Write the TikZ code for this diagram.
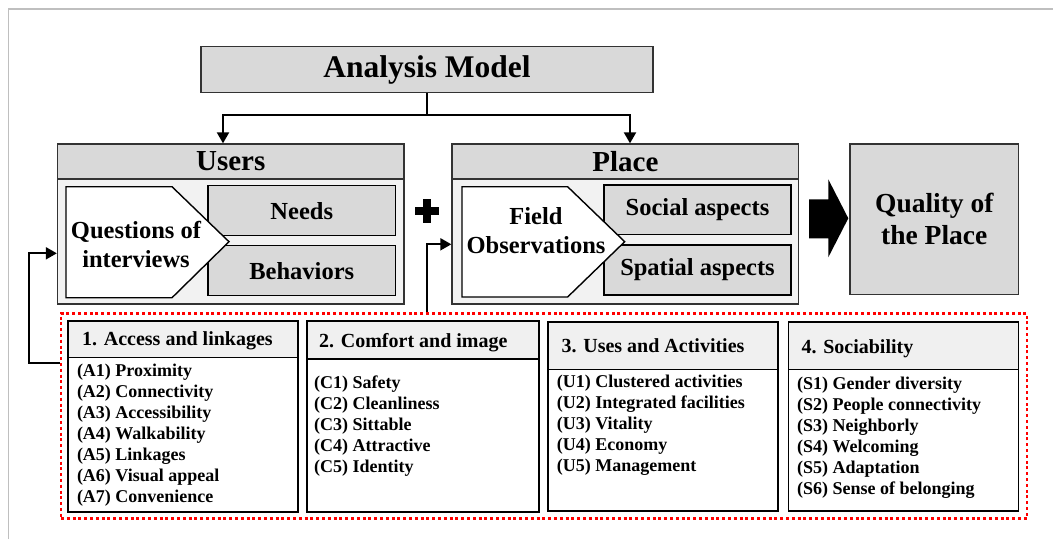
\documentclass[tikz,border=0pt]{standalone}
\usepackage{fontspec}
\setmainfont{Liberation Serif}
\usetikzlibrary{arrows.meta}

\begin{document}
\begin{tikzpicture}[x=1pt, y=-1pt,
	box/.style={draw=black!80, line width=1.3pt, inner sep=0pt},
	hdr/.style={box, fill=black!15},
	sub/.style={box, draw=black, fill=black!15},
	crit/.style={draw=black, line width=1.6pt, inner sep=0pt},
	conn/.style={line width=2pt, -{Triangle[length=11pt, width=12pt]}},
	bigtxt/.style={font=\bfseries\fontsize{29}{34}\selectfont},
	midtxt/.style={font=\bfseries\fontsize{24.5}{29}\selectfont, align=center},
	ttl/.style={font=\bfseries\fontsize{20}{23}\selectfont, anchor=base west, inner sep=0pt},
	itm/.style={font=\bfseries\fontsize{18}{21}\selectfont, anchor=base west, align=left, inner sep=0pt}]
	\useasboundingbox (0,0) rectangle (1053,539);
	% Frame
	\draw[black!25, line width=1.5pt] (8.3,539) -- (8.3,9) -- (1053,9);

	% Top box
	\node[hdr, font=\bfseries\fontsize{31.5}{36}\selectfont, minimum width=452pt, minimum height=46pt] (am) at (427,69.7) {Analysis Model};

	% Users
	\node[hdr, bigtxt, minimum width=346.5pt, minimum height=35pt] (users) at (230.75,161.5) {Users};
	\node[box, fill=black!5, minimum width=346.5pt, minimum height=125pt] (ubody) at (230.75,241.5) {};
	\node[sub, midtxt, minimum width=187.5pt, minimum height=50pt] (needs) at (301.75,210.7) {Needs};
	\node[sub, midtxt, minimum width=187.5pt, minimum height=50pt] (behav) at (301.75,270.7) {Behaviors};
	\filldraw[fill=white, draw=black, line width=1.4pt] (66,186.7) -- (172,186.7) -- (229,241.7) -- (172,297.7) -- (66,297.7) -- cycle;
	\node[midtxt, inner sep=0pt] (qi) at (136,244.5) {Questions of\\interviews};

	% Plus
	\fill (414.6,207) rectangle (438.6,215);
	\fill (422.6,199) rectangle (430.6,223);

	% Place
	\node[hdr, bigtxt, minimum width=346.7pt, minimum height=35pt] (place) at (625.35,161.5) {Place};
	\node[box, fill=black!5, minimum width=346.7pt, minimum height=125pt] (pbody) at (625.35,241.5) {};
	\node[sub, midtxt, minimum width=187pt, minimum height=49.3pt] (social) at (697.5,209.7) {Social aspects};
	\node[sub, midtxt, minimum width=187pt, minimum height=50pt] (spatial) at (697.5,270) {Spatial aspects};
	\filldraw[fill=white, draw=black, line width=1.4pt] (462,186.7) -- (567.6,186.7) -- (624.7,241.7) -- (567.6,297) -- (462,297) -- cycle;
	\node[midtxt, inner sep=0pt] (fo) at (536,230.5) {Field\\Observations};

	% Block arrow
	\fill (809,199.3) -- (828.3,199.3) -- (828.3,179.3) -- (848.3,218.3) -- (828.3,257.3) -- (828.3,238.3) -- (809,238.3) -- cycle;

	% Result
	\node[hdr, font=\bfseries\fontsize{27.5}{32}\selectfont, align=center, minimum width=168.6pt, minimum height=150.7pt] (quality) at (934.3,219.35) {Quality of\\the Place};

	% Split arrows
	\coordinate (split) at (am.south |- 0,115);
	\draw[line width=2pt] (am.south) -- (split);
	\draw[conn] (split) -| ([xshift=-7.75pt]users.north);
	\draw[conn] (split) -| ([xshift=4.65pt]place.north);

	% Criteria
	\node[draw=red, line width=2.8pt, dash pattern=on 3pt off 2.8pt, minimum width=966pt, minimum height=205pt, inner sep=0pt] (crit) at (544,415.8) {};

	%1
	\node[crit, fill=black!6, minimum width=230pt, minimum height=36.6pt] (hd1) at (183,339) {};
	\node[crit, fill=white, minimum width=230pt, minimum height=154.4pt] (bd1) at (183,434.5) {};
	\node[ttl] (t1) at (82,345.7) {1. Access and linkages};
	\node[itm] (l1) at (76.8,502.7) {(A1) Proximity\\(A2) Connectivity\\(A3) Accessibility\\(A4) Walkability\\(A5) Linkages\\(A6) Visual appeal\\(A7) Convenience};
	%2
	\node[crit, fill=black!6, minimum width=231.7pt, minimum height=38.3pt] (hd2) at (422.85,339.85) {};
	\node[crit, fill=white, minimum width=231.7pt, minimum height=152.7pt] (bd2) at (422.85,435.35) {};
	\node[ttl] (t2) at (319,347.3) {2. Comfort and image};
	\node[itm] (l2) at (314,472.3) {(C1) Safety\\(C2) Cleanliness\\(C3) Sittable\\(C4) Attractive\\(C5) Identity};
	%3
	\node[crit, fill=black!6, minimum width=230pt, minimum height=47.6pt] (hd3) at (663,345.5) {};
	\node[crit, fill=white, minimum width=230pt, minimum height=141.4pt] (bd3) at (663,440) {};
	\node[ttl] (t3) at (561.5,352.3) {3. Uses and Activities};
	\node[itm] (l3) at (556.7,471.7) {(U1) Clustered activities\\(U2) Integrated facilities\\(U3) Vitality\\(U4) Economy\\(U5) Management};
	%4
	\node[crit, fill=black!6, minimum width=230.1pt, minimum height=47.6pt] (hd4) at (903.55,345.5) {};
	\node[crit, fill=white, minimum width=230.1pt, minimum height=141.4pt] (bd4) at (903.55,440) {};
	\node[ttl] (t4) at (801.4,353.3) {4. Sociability};
	\node[itm] (l4) at (797,494.3) {(S1) Gender diversity\\(S2) People connectivity\\(S3) Neighborly\\(S4) Welcoming\\(S5) Adaptation\\(S6) Sense of belonging};

	% Feedback
	\draw[conn] (crit.west |- 0,362.7) -- ++(-31,0) |- (ubody.west |- 0,253.3);
	\draw[conn] (crit.north -| 426.6,0) |- (pbody.west |- 0,244.3);
\end{tikzpicture}
\end{document}
